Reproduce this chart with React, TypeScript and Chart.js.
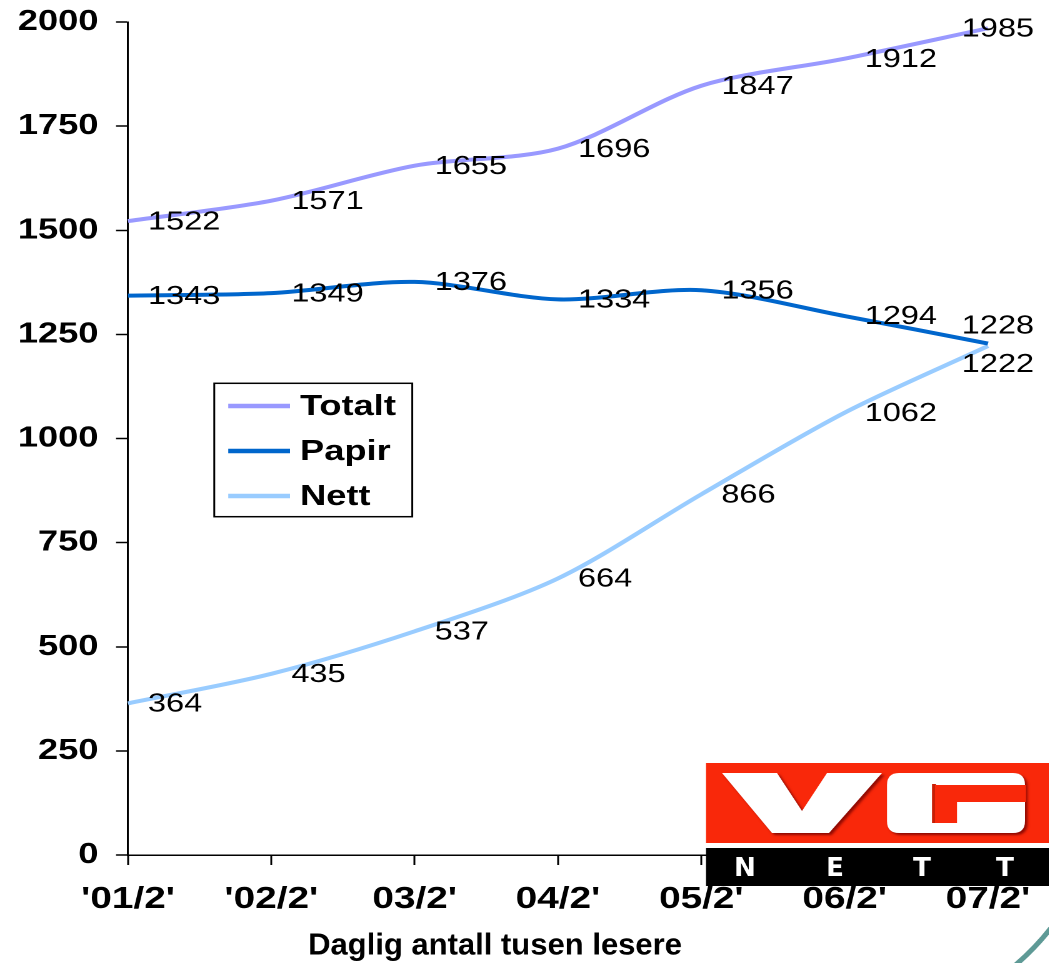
import React, { useEffect, useRef } from "react";
import { Chart, registerables } from "chart.js";

Chart.register(...registerables);

// ---- data ----
const categories = ["'01/2'", "'02/2'", "03/2'", "04/2'", "05/2'", "06/2'", "07/2'"];
const totalt = [1522, 1571, 1655, 1696, 1847, 1912, 1985];
const papir = [1343, 1349, 1376, 1334, 1356, 1294, 1228];
const nett = [364, 435, 537, 664, 866, 1062, 1222];
const seriesNames = ["Totalt", "Papir", "Nett"];
const seriesColors = ["#9999FF", "#0066CC", "#99CCFF"];
const yMin = 0;
const yMax = 2000;
const yStep = 250;
const axisTitle = "Daglig antall tusen lesere";
const logoLetters = ["N", "E", "T", "T"];

// ---- layout / style ----
const S = 1.25; // horizontal stretch of the original picture
const W = 839;
const H = 963;
const FONT = "'Liberation Sans', Arial, Helvetica, sans-serif";
const lastDy = [1, -17, 19];

const valueLabels = {
  id: "valueLabels",
  afterDatasetsDraw(chart: any) {
    const ctx = chart.ctx;
    ctx.save();
    ctx.font = `26px ${FONT}`;
    ctx.fillStyle = "#000";
    ctx.textBaseline = "middle";
    ctx.textAlign = "left";
    chart.data.datasets.forEach((ds: any, i: number) => {
      const meta = chart.getDatasetMeta(i);
      meta.data.forEach((pt: any, j: number) => {
        const last = j === meta.data.length - 1;
        const dx = last ? -21 : 16;
        const dy = last ? lastDy[i] : 1;
        ctx.fillText(String(ds.data[j]), pt.x + dx, pt.y + dy);
      });
    });
    ctx.restore();
  },
};

const boxLegend = {
  id: "boxLegend",
  afterDraw(chart: any) {
    const ctx = chart.ctx;
    ctx.save();
    const x0 = 171.4, x1 = 329.8, y0 = 383.3, y1 = 516.7;
    ctx.fillStyle = "#fff";
    ctx.fillRect(x0, y0, x1 - x0, y1 - y0);
    ctx.strokeStyle = "#000";
    ctx.lineWidth = 1.5;
    ctx.strokeRect(x0, y0, x1 - x0, y1 - y0);
    const rows = [406, 451, 496];
    ctx.font = `bold 29px ${FONT}`;
    ctx.textBaseline = "middle";
    ctx.textAlign = "left";
    chart.data.datasets.forEach((ds: any, i: number) => {
      const y = rows[i];
      ctx.strokeStyle = ds.borderColor;
      ctx.lineWidth = 4.5;
      ctx.beginPath();
      ctx.moveTo(182.6, y);
      ctx.lineTo(232, y);
      ctx.stroke();
      ctx.fillStyle = "#000";
      ctx.fillText(ds.label, 240, y + 1);
    });
    ctx.restore();
  },
};

const extras = {
  id: "extras",
  afterDraw(chart: any) {
    const ctx = chart.ctx;
    ctx.save();
    ctx.scale(1 / S, 1); // draw in final (unstretched) coordinates
    // axis title
    ctx.fillStyle = "#000";
    ctx.font = `bold 31px ${FONT}`;
    ctx.textAlign = "center";
    ctx.textBaseline = "middle";
    ctx.fillText(axisTitle, 495, 946);

    // logo
    const red = "#F9280A";
    ctx.fillStyle = red;
    ctx.fillRect(706, 763, 350, 80);
    ctx.fillStyle = "#000";
    ctx.fillRect(706, 848, 350, 38);

    ctx.save();
    ctx.shadowColor = "rgba(110,0,0,0.75)";
    ctx.shadowOffsetX = 4;
    ctx.shadowOffsetY = 4;
    ctx.shadowBlur = 4;
    ctx.fillStyle = "#fff";
    ctx.beginPath();
    ctx.moveTo(722, 773);
    ctx.lineTo(777, 773);
    ctx.lineTo(802, 811);
    ctx.lineTo(827, 773);
    ctx.lineTo(882, 773);
    ctx.lineTo(829, 833);
    ctx.lineTo(772, 833);
    ctx.closePath();
    ctx.fill();
    // G outer
    const gx0 = 887, gy0 = 773, gx1 = 1025, gy1 = 833, r = 12;
    ctx.beginPath();
    ctx.moveTo(gx0 + r, gy0);
    ctx.lineTo(gx1 - r, gy0);
    ctx.quadraticCurveTo(gx1, gy0, gx1, gy0 + r);
    ctx.lineTo(gx1, gy1 - r);
    ctx.quadraticCurveTo(gx1, gy1, gx1 - r, gy1);
    ctx.lineTo(gx0 + r, gy1);
    ctx.quadraticCurveTo(gx0, gy1, gx0, gy1 - r);
    ctx.lineTo(gx0, gy0 + r);
    ctx.quadraticCurveTo(gx0, gy0, gx0 + r, gy0);
    ctx.closePath();
    ctx.fill();
    ctx.restore();
    // G inner cut (mouth + inner hollow)
    ctx.fillStyle = "#C81E05";
    ctx.fillRect(932, 784, 4, 39);
    ctx.fillStyle = red;
    ctx.beginPath();
    ctx.moveTo(935, 785);
    ctx.lineTo(1026, 785);
    ctx.lineTo(1026, 802);
    ctx.lineTo(957, 802);
    ctx.lineTo(957, 823);
    ctx.lineTo(935, 823);
    ctx.closePath();
    ctx.fill();

    ctx.fillStyle = "#fff";
    ctx.font = `bold 26px 'DejaVu Sans', ${FONT}`;
    ctx.textAlign = "center";
    ctx.textBaseline = "middle";
    const lx = [745, 835, 922, 1005];
    logoLetters.forEach((c, i) => ctx.fillText(c, lx[i], 869));

    // teal corner arc
    ctx.strokeStyle = "#5E9A96";
    ctx.lineWidth = 5;
    ctx.beginPath();
    ctx.moveTo(1054, 924);
    ctx.quadraticCurveTo(1036, 948, 1012, 968);
    ctx.stroke();
    ctx.restore();
  },
};

export default function App() {
  const ref = useRef<HTMLCanvasElement | null>(null);

  useEffect(() => {
    const canvas = ref.current;
    if (!canvas) return;
    const series = [totalt, papir, nett];
    const chart = new Chart(canvas, {
      type: "line",
      data: {
        labels: categories,
        datasets: series.map((d, i) => ({
          label: seriesNames[i],
          data: d,
          borderColor: seriesColors[i],
          backgroundColor: seriesColors[i],
          borderWidth: 4,
          pointRadius: 0,
          tension: 0.3,
          fill: false,
        })),
      },
      options: {
        animation: false,
        responsive: false,
        devicePixelRatio: 2,
        layout: { padding: { top: 22, right: W - 988 / S, bottom: 0, left: 0 } },
        plugins: {
          legend: { display: false },
          tooltip: { enabled: false },
          title: { display: false },
        },
        scales: {
          x: {
            type: "category",
            offset: false,
            afterFit: (s: any) => {
              s.height = H - 855;
              s.paddingLeft = 0;
              s.paddingRight = 0;
            },
            grid: {
              drawOnChartArea: false,
              drawTicks: true,
              tickLength: 10,
              tickColor: "#000",
              tickWidth: 1.5,
            },
            border: { display: true, color: "#000", width: 1.5 },
            ticks: {
              color: "#000",
              font: { family: FONT, size: 31, weight: "bold" },
              padding: 16,
              maxRotation: 0,
              autoSkip: false,
            },
          },
          y: {
            min: yMin,
            max: yMax,
            afterFit: (s: any) => {
              s.width = 128 / S;
              s.paddingTop = 0;
              s.paddingBottom = 0;
            },
            grid: {
              drawOnChartArea: false,
              drawTicks: true,
              tickLength: 12 / S,
              tickColor: "#000",
              tickWidth: 1.5,
            },
            border: { display: true, color: "#000", width: 1.5 },
            ticks: {
              stepSize: yStep,
              color: "#000",
              font: { family: FONT, size: 29, weight: "bold" },
              padding: 14,
              callback: (v: any) => String(v),
            },
          },
        },
      },
      plugins: [valueLabels, boxLegend, extras],
    } as any);
    return () => chart.destroy();
  }, []);

  return (
    <div style={{ position: "fixed", left: 0, top: 0, width: 1049, height: 963, overflow: "hidden", background: "#fff" }}>
      <div
        style={{
          position: "absolute",
          left: 0,
          top: 0,
          width: W,
          height: H,
          transform: `scaleX(${S})`,
          transformOrigin: "0 0",
        }}
      >
        <canvas ref={ref} width={W} height={H} style={{ width: W, height: H, display: "block" }} />
      </div>
    </div>
  );
}
